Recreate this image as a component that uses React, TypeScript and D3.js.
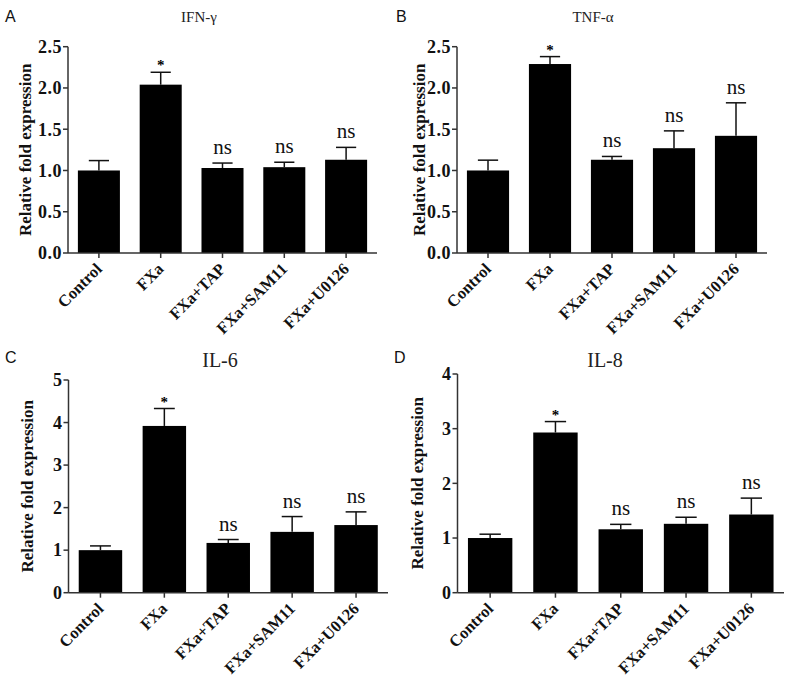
import React from "react";
import * as d3 from "d3";

const categories = ["Control", "FXa", "FXa+TAP", "FXa+SAM11", "FXa+U0126"];
const significance = ["", "*", "ns", "ns", "ns"];

const ifnMean = [1.0, 2.04, 1.03, 1.04, 1.13];
const ifnErr = [0.12, 0.15, 0.06, 0.06, 0.15];
const tnfMean = [1.0, 2.29, 1.13, 1.27, 1.42];
const tnfErr = [0.125, 0.09, 0.04, 0.21, 0.4];
const il6Mean = [1.0, 3.92, 1.17, 1.43, 1.59];
const il6Err = [0.1, 0.41, 0.08, 0.36, 0.31];
const il8Mean = [1.0, 2.93, 1.16, 1.26, 1.43];
const il8Err = [0.07, 0.2, 0.09, 0.12, 0.3];

const ticksAB = [0, 0.5, 1.0, 1.5, 2.0, 2.5];
const ticksC = [0, 1, 2, 3, 4, 5];
const ticksD = [0, 1, 2, 3, 4];

const SERIF = "'Liberation Serif', 'Times New Roman', serif";
const SANS = "'Liberation Sans', Arial, sans-serif";

type PanelProps = {
  letter: string;
  letterX: number;
  letterY: number;
  title: string;
  titleX: number;
  titleY: number;
  titleSize: number;
  x0: number;
  x1: number;
  yTop: number;
  yBot: number;
  yMax: number;
  ticks: number[];
  fmt: (v: number) => string;
  means: number[];
  errs: number[];
  labelX: number;
};

function Panel(p: PanelProps) {
  const x = d3
    .scaleBand<string>()
    .domain(categories)
    .range([p.x0, p.x1])
    .paddingInner(0.32)
    .paddingOuter(0.16);
  const y = d3.scaleLinear().domain([0, p.yMax]).range([p.yBot, p.yTop]);
  const bw = x.bandwidth();
  const capW = bw * 0.48;
  const axisColor = "#333";
  return (
    <g>
      <text x={p.letterX} y={p.letterY} fontFamily={SANS} fontSize={16} fill="#111">
        {p.letter}
      </text>
      <text
        x={p.titleX}
        y={p.titleY}
        fontFamily={SERIF}
        fontSize={p.titleSize}
        textAnchor="middle"
        fill="#222"
      >
        {p.title}
      </text>
      <text
        transform={`translate(${p.labelX},${(p.yTop + p.yBot) / 2}) rotate(-90)`}
        fontFamily={SERIF}
        fontWeight="bold"
        fontSize={17}
        textAnchor="middle"
        fill="#111"
      >
        Relative fold expression
      </text>
      {categories.map((c, i) => {
        const cx = (x(c) as number) + bw / 2;
        const top = y(p.means[i]);
        const cap = y(p.means[i] + p.errs[i]);
        const sig = significance[i];
        return (
          <g key={c}>
            <line x1={cx} x2={cx} y1={top} y2={cap} stroke="#111" strokeWidth={1.5} />
            <line x1={cx - capW / 2} x2={cx + capW / 2} y1={cap} y2={cap} stroke="#111" strokeWidth={1.5} />
            <rect x={x(c)} y={top} width={bw} height={p.yBot - top} fill="#000" />
            {sig === "*" ? (
              <text x={cx} y={cap - 2} fontFamily={SERIF} fontWeight="bold" fontSize={15} textAnchor="middle" fill="#000">
                *
              </text>
            ) : sig ? (
              <text x={cx} y={cap - 9} fontFamily={SERIF} fontSize={21} textAnchor="middle" fill="#111">
                {sig}
              </text>
            ) : null}
            <line x1={cx} x2={cx} y1={p.yBot} y2={p.yBot + 5} stroke={axisColor} strokeWidth={1.5} />
            <text
              transform={`translate(${cx + 4},${p.yBot + 17}) rotate(-45)`}
              fontFamily={SERIF}
              fontWeight="bold"
              fontSize={16.5}
              textAnchor="end"
              fill="#111"
            >
              {c}
            </text>
          </g>
        );
      })}
      <line x1={p.x0} x2={p.x1} y1={p.yBot} y2={p.yBot} stroke={axisColor} strokeWidth={1.5} />
      <line x1={p.x0} x2={p.x0} y1={p.yTop} y2={p.yBot} stroke={axisColor} strokeWidth={1.5} />
      {p.ticks.map((t) => (
        <g key={t}>
          <line x1={p.x0 - 5} x2={p.x0} y1={y(t)} y2={y(t)} stroke={axisColor} strokeWidth={1.5} />
          <text
            x={p.x0 - 6}
            y={y(t)}
            dy="0.35em"
            fontFamily={SERIF}
            fontWeight="bold"
            fontSize={18}
            letterSpacing={0.5}
            textAnchor="end"
            fill="#111"
          >
            {p.fmt(t)}
          </text>
        </g>
      ))}
    </g>
  );
}

export default function App() {
  const f1 = d3.format(".1f");
  const f0 = d3.format("d");
  return (
    <svg
      width={790}
      height={689}
      style={{ position: "absolute", left: 0, top: 0, background: "#fff" }}
    >
      <rect width={790} height={689} fill="#fff" />
      <Panel
        letter="A" letterX={5} letterY={22}
        title="IFN-γ" titleX={199} titleY={22} titleSize={15}
        x0={68} x1={377} yTop={46.7} yBot={253} yMax={2.5}
        ticks={ticksAB} fmt={f1} means={ifnMean} errs={ifnErr} labelX={31}
      />
      <Panel
        letter="B" letterX={396} letterY={22}
        title="TNF-α" titleX={593} titleY={22} titleSize={15}
        x0={457} x1={767} yTop={46.7} yBot={253} yMax={2.5}
        ticks={ticksAB} fmt={f1} means={tnfMean} errs={tnfErr} labelX={425}
      />
      <Panel
        letter="C" letterX={5} letterY={363}
        title="IL-6" titleX={220} titleY={367} titleSize={20}
        x0={68.5} x1={388} yTop={380} yBot={592.7} yMax={5}
        ticks={ticksC} fmt={f0} means={il6Mean} errs={il6Err} labelX={33}
      />
      <Panel
        letter="D" letterX={394} letterY={363}
        title="IL-8" titleX={605} titleY={367} titleSize={20}
        x0={457.5} x1={784} yTop={374} yBot={592.7} yMax={4}
        ticks={ticksD} fmt={f0} means={il8Mean} errs={il8Err} labelX={423}
      />
    </svg>
  );
}
